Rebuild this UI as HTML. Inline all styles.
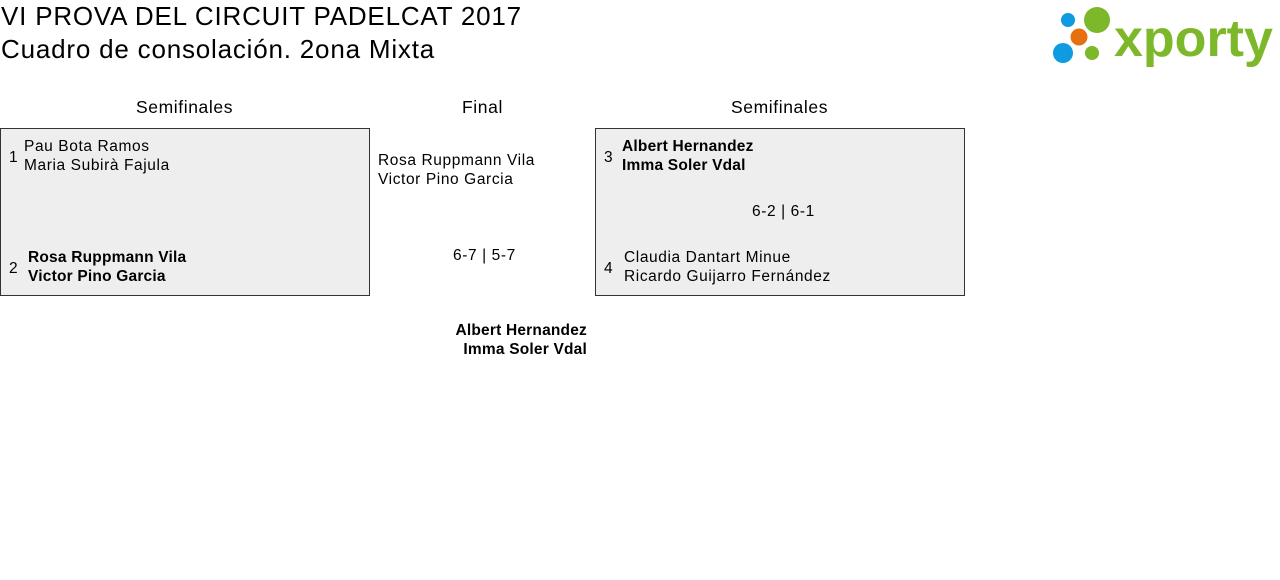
<!DOCTYPE html>
<html><head><meta charset="utf-8"><style>
body{margin:0;width:1280px;height:580px;background:#fff;font-family:"Liberation Sans",sans-serif;color:#000;position:relative;overflow:hidden}
.a{position:absolute;white-space:nowrap}
.t{font-size:26px;letter-spacing:0.8px}
.h{font-size:17.5px;letter-spacing:0.6px}
.n{font-size:15.5px;line-height:19px;letter-spacing:0.6px}
.b{font-weight:bold;letter-spacing:0.2px}
.box{position:absolute;background:#eeeeee;border:1px solid #333;box-sizing:border-box}
</style></head><body>
<div class="a t" style="left:1px;top:1px">VI PROVA DEL CIRCUIT PADELCAT 2017</div>
<div class="a t" style="left:1px;top:34px">Cuadro de consolación. 2ona Mixta</div>

<svg class="a" style="left:1050px;top:2px" width="228" height="66">
<circle cx="18" cy="18" r="7" fill="#0e9be0"/>
<circle cx="47" cy="18" r="13" fill="#7cb82a"/>
<circle cx="29" cy="35" r="8.5" fill="#e6700f"/>
<circle cx="13" cy="51" r="10" fill="#0e9be0"/>
<circle cx="42" cy="51" r="7" fill="#7cb82a"/>
<text x="64" y="54" font-family="Liberation Sans,sans-serif" font-weight="bold" font-size="52" fill="#7cb82a" letter-spacing="0">xporty</text>
</svg>

<div class="a h" style="left:136px;top:97px">Semifinales</div>
<div class="a h" style="left:462px;top:97px">Final</div>
<div class="a h" style="left:731px;top:97px">Semifinales</div>

<div class="box" style="left:0;top:128px;width:370px;height:168px"></div>
<div class="a n" style="left:9px;top:148px">1</div>
<div class="a n" style="left:24px;top:137px">Pau Bota Ramos<br>Maria Subirà Fajula</div>
<div class="a n" style="left:9px;top:259px">2</div>
<div class="a n b" style="left:28px;top:248px">Rosa Ruppmann Vila<br>Victor Pino Garcia</div>

<div class="a n" style="left:378px;top:151px">Rosa Ruppmann Vila<br>Victor Pino Garcia</div>
<div class="a n" style="left:453px;top:246px">6-7 | 5-7</div>
<div class="a n b" style="right:693px;top:321px;text-align:right">Albert Hernandez<br>Imma Soler Vdal</div>

<div class="box" style="left:595px;top:128px;width:370px;height:168px"></div>
<div class="a n" style="left:604px;top:148px">3</div>
<div class="a n b" style="left:622px;top:137px">Albert Hernandez<br>Imma Soler Vdal</div>
<div class="a n" style="left:752px;top:202px">6-2 | 6-1</div>
<div class="a n" style="left:604px;top:259px">4</div>
<div class="a n" style="left:624px;top:248px">Claudia Dantart Minue<br>Ricardo Guijarro Fernández</div>
</body></html>
